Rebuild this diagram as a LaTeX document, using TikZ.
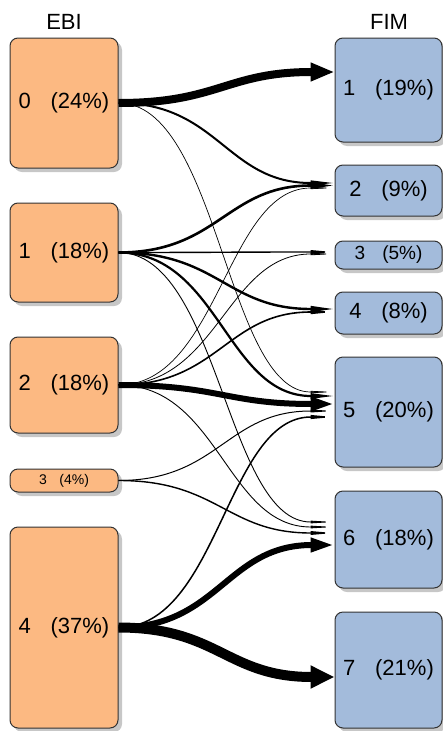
\documentclass[tikz,border=0pt]{standalone}
\usepackage{fontspec}
\setmainfont{Liberation Sans}
\usepackage{tikz}
\usetikzlibrary{shadows,arrows.meta}
\definecolor{ebiorange}{HTML}{FCB982}
\definecolor{fimblue}{HTML}{A3BBDB}
\tikzstyle{cell} = [draw=black!80, line width=1pt,
                    rectangle, rounded corners=8pt,
                    inner sep=0pt, font=\fontsize{22}{26}\selectfont,
                    drop shadow={shadow xshift=4pt, shadow yshift=-4pt,
                                 fill=black!22, opacity=1}]
\tikzstyle{ebibox} = [cell, fill=ebiorange, minimum width=108pt]
\tikzstyle{fimbox} = [cell, fill=fimblue, minimum width=107pt]
\tikzstyle{flow} = [-{Triangle[length=24pt, width=0.6pt 2.1]}]
\tikzstyle{head} = [font=\fontsize{22}{26}\selectfont]
\begin{document}
\begin{tikzpicture}[x=1pt, y=-1pt]%
  \useasboundingbox (0,0) rectangle (443,731);
  \node[head] (ebi) at (64,22) {EBI};
  \node[head] (fim) at (389,22) {FIM};
  % EBI clusters
  \node[ebibox, minimum height=130pt] (e0) at (64,103)   {0\hspace{0.9em}(24\%)};
  \node[ebibox, minimum height=99pt]  (e1) at (64,252.5) {1\hspace{0.9em}(18\%)};
  \node[ebibox, minimum height=96pt]  (e2) at (64,385)   {2\hspace{0.9em}(18\%)};
  \node[ebibox, minimum height=23pt, font=\fontsize{14}{16}\selectfont]
                                      (e3) at (64,480.5) {3\hspace{0.9em}(4\%)};
  \node[ebibox, minimum height=201pt] (e4) at (64,627.5) {4\hspace{0.9em}(37\%)};
  % FIM clusters
  \node[fimbox, minimum height=104pt] (f1) at (388.5,90)    {1\hspace{0.9em}(19\%)};
  \node[fimbox, minimum height=51pt]  (f2) at (388.5,190.5) {2\hspace{0.9em}(9\%)};
  \node[fimbox, minimum height=28pt, font=\fontsize{19}{22}\selectfont]
                                      (f3) at (388.5,255)   {3\hspace{0.9em}(5\%)};
  \node[fimbox, minimum height=42pt]  (f4) at (388.5,313)   {4\hspace{0.9em}(8\%)};
  \node[fimbox, minimum height=110pt] (f5) at (388.5,412)   {5\hspace{0.9em}(20\%)};
  \node[fimbox, minimum height=97pt]  (f6) at (388.5,539.5) {6\hspace{0.9em}(18\%)};
  \node[fimbox, minimum height=116pt] (f7) at (388.5,670)   {7\hspace{0.9em}(21\%)};
  % flows from 0
  \draw[flow, line width=8pt]   (e0.east) .. controls +(100,0) and +(-108,0) .. ([yshift=18pt]f1.west);
  \draw[flow, line width=2pt]   (e0.east) .. controls +(100,0) and +(-108,0) .. ([yshift=7.5pt]f2.west);
  \draw[flow, line width=0.7pt] (e0.east) .. controls +(100,0) and +(-108,0) .. ([yshift=20pt]f5.west);
  % flows from 1
  \draw[flow, line width=2.6pt] (e1.east) .. controls +(100,0) and +(-108,0) .. ([yshift=5pt]f2.west);
  \draw[flow, line width=1.4pt] (e1.east) .. controls +(100,0) and +(-108,0) .. ([yshift=3pt]f3.west);
  \draw[flow, line width=2.4pt] (e1.east) .. controls +(100,0) and +(-108,0) .. ([yshift=4pt]f4.west);
  \draw[flow, line width=2.2pt] (e1.east) .. controls +(100,0) and +(-108,0) .. ([yshift=16pt]f5.west);
  \draw[flow, line width=0.9pt] (e1.east) .. controls +(100,0) and +(-108,0) .. ([yshift=17.5pt]f6.west);
  % flows from 2
  \draw[flow, line width=0.7pt] (e2.east) .. controls +(100,0) and +(-108,0) .. ([yshift=2.5pt]f2.west);
  \draw[flow, line width=0.8pt] (e2.east) .. controls +(100,0) and +(-108,0) .. ([yshift=1pt]f3.west);
  \draw[flow, line width=1.6pt] (e2.east) .. controls +(100,0) and +(-108,0) .. ([yshift=1pt]f4.west);
  \draw[flow, line width=6pt]   (e2.east) .. controls +(100,0) and +(-108,0) .. ([yshift=8pt]f5.west);
  \draw[flow, line width=0.9pt] (e2.east) .. controls +(100,0) and +(-108,0) .. ([yshift=12.5pt]f6.west);
  % flows from 3
  \draw[flow, line width=1pt]   (e3.east) .. controls +(100,0) and +(-108,0) .. ([yshift=1pt]f5.west);
  \draw[flow, line width=1.4pt] (e3.east) .. controls +(100,0) and +(-108,0) .. ([yshift=6.5pt]f6.west);
  % flows from 4
  \draw[flow, line width=1.5pt] (e4.east) .. controls +(100,0) and +(-108,0) .. ([yshift=-5pt]f5.west);
  \draw[flow, line width=6pt]   (e4.east) .. controls +(100,0) and +(-108,0) .. ([yshift=-5.5pt]f6.west);
  \draw[flow, line width=10pt]  (e4.east) .. controls +(100,0) and +(-108,0) .. ([yshift=-7pt]f7.west);
\end{tikzpicture}
\end{document}
